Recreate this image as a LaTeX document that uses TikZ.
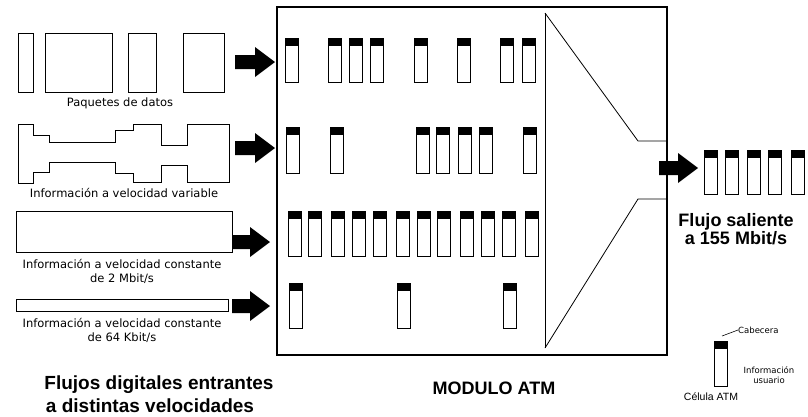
\documentclass[tikz,border=0pt]{standalone}
\usepackage{fontspec}
\setmainfont{Liberation Sans}
\newfontfamily\smallfont{DejaVu Sans}
\usetikzlibrary{calc}
\newcommand\myarrow[2]{\fill let \p1=(#1), \p2=(#2) in (\x1,\y1+7pt) -- (\x2-20pt,\y1+7pt) -- (\x2-20pt,\y1+15pt) -- (\x2,\y1) -- (\x2-20pt,\y1-15pt) -- (\x2-20pt,\y1-7pt) -- (\x1,\y1-7pt) -- cycle;}
\newcommand\atmcell[3]{\draw[cellline] (#1,#2) rectangle ++(13,#3); \fill (#1,#2) rectangle ++(13,8);}
\tikzset{
  cellline/.style={line width=1pt},
  shapeline/.style={line width=1pt},
  lbl/.style={font=\smallfont\fontsize{11.5}{14}\selectfont, inner sep=0pt, align=center},
  tiny/.style={font=\smallfont\fontsize{8.5}{10}\selectfont, inner sep=0pt, align=center},
  title/.style={font=\fontsize{19}{26}\selectfont\bfseries, inner sep=0pt, anchor=base},
  subtitle/.style={font=\fontsize{18}{18.5}\selectfont\bfseries, inner sep=0pt, align=center},
}
\begin{document}
\begin{tikzpicture}[x=1pt,y=-1pt]
\useasboundingbox (0,0) rectangle (808,416);
\fill[white] (0,0) rectangle (808,416);
% input streams
\draw[shapeline] (18,33) rectangle (33,92);
\draw[shapeline] (45,33) rectangle (112,92);
\draw[shapeline] (128,33) rectangle (156,92);
\draw[shapeline] (183,33) rectangle (224,92);
\node[lbl] (tpaq) at (120,103) {Paquetes de datos};
\draw[shapeline] (18,124) -- (33,124) -- (33,135) -- (49,135) -- (49,142) -- (115,142) -- (115,130) -- (133,130) -- (133,124) -- (161,124) -- (161,145) -- (187,145) -- (187,124) -- (229,124) -- (229,182) -- (187,182) -- (187,165) -- (161,165) -- (161,182) -- (133,182) -- (133,173) -- (115,173) -- (115,162) -- (49,162) -- (49,172) -- (33,172) -- (33,183) -- (18,183) -- cycle;
\node[lbl] (tvar) at (124,193) {Información a velocidad variable};
\draw[shapeline] (16,211) rectangle (232,252);
\node[lbl] (t2m) at (122,271.5) {Información a velocidad constante\\de 2 Mbit/s};
\draw[shapeline] (16,299) rectangle (228,311);
\node[lbl] (t64) at (122,330) {Información a velocidad constante\\de 64 Kbit/s};
\node[title] (tin1) at (159,389) {Flujos digitales entrantes};
\node[title] (tin2) at (150,412) {a distintas velocidades};
% arrows
\coordinate (a1s) at (235,62);  \coordinate (a1e) at (275,62);
\coordinate (a2s) at (235,148); \coordinate (a2e) at (275,148);
\coordinate (a3s) at (232,242); \coordinate (a3e) at (270,242);
\coordinate (a4s) at (232,306); \coordinate (a4e) at (270,306);
\coordinate (aos) at (659,168); \coordinate (aoe) at (698,168);
\myarrow{a1s}{a1e}
\myarrow{a2s}{a2e}
\myarrow{a3s}{a3e}
\myarrow{a4s}{a4e}
% module
\draw[line width=1.3pt] (277,7) rectangle (667,355);
\draw[line width=0.8pt] (545,13) -- (545,348);
\draw[line width=0.8pt] (545,13) -- (638,141) -- (667,141);
\draw[line width=0.8pt] (545,348) -- (638,199) -- (667,199);
\myarrow{aos}{aoe}
\foreach \x in {285,328,349,370,414,457,500,522} {\atmcell{\x}{38}{44}}
\foreach \x in {286,330,416,436,458,479,523} {\atmcell{\x}{127}{46}}
\foreach \x in {288,308,331,352,373,396,417,437,460,481,502,525} {\atmcell{\x}{211}{45}}
\foreach \x in {289,397,503} {\atmcell{\x}{283}{45}}
\node[subtitle] (tmod) at (494,388) {MODULO ATM};
% output
\foreach \x in {704,725,747,768,791} {\atmcell{\x}{150}{44}}
\node[subtitle] (tout) at (736,229) {Flujo saliente\\a 155 Mbit/s};
% legend
\atmcell{714}{341}{45}
\coordinate (hdr) at (722,336);
\node[tiny, anchor=west] (tcab) at (738,330) {Cabecera};
\draw[line width=0.6pt] (hdr) -- (tcab.west);
\node[tiny] (tusr) at (769,375) {Información\\usuario};
\node[font=\fontsize{10.5}{12}\selectfont, inner sep=0pt] (tcel) at (711,397) {Célula ATM};
\end{tikzpicture}
\end{document}
